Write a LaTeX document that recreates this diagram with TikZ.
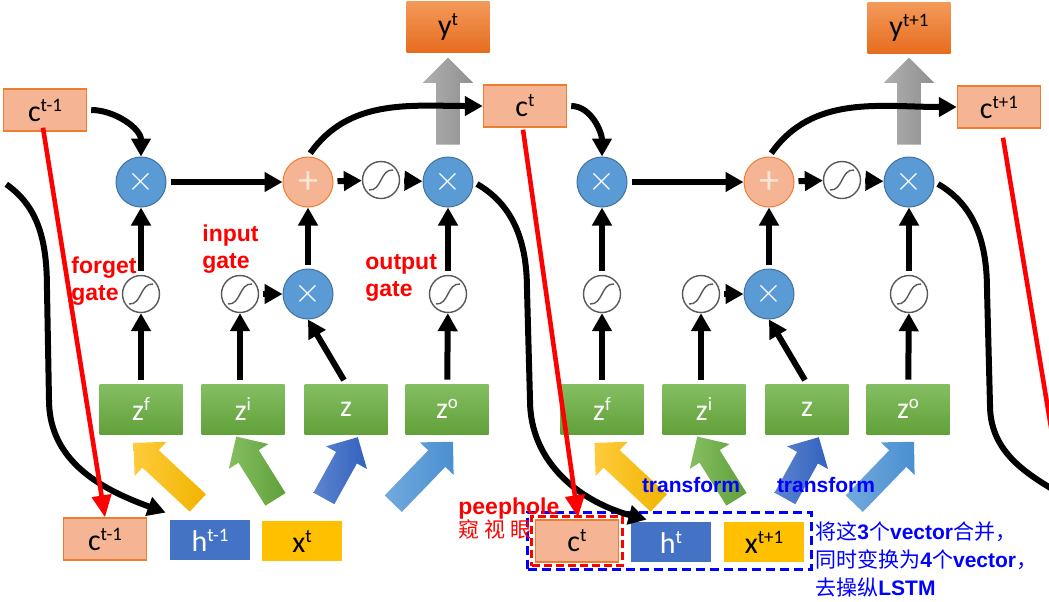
\documentclass[tikz,border=0pt]{standalone}
\usepackage{fontspec}
\setmainfont{Carlito}
\newfontfamily\arialfont{Liberation Sans}
\newfontfamily\cjkfont{Noto Sans CJK SC}
\usepackage{tikz}
\usetikzlibrary{positioning,arrows.meta,shapes.arrows,fit}
\definecolor{salmon}{HTML}{F5B595}
\definecolor{salmonedge}{HTML}{ED7D31}
\definecolor{orangetop}{HTML}{F39A5A}
\definecolor{orangebot}{HTML}{E66C1E}
\definecolor{opblue}{HTML}{5B9BD5}
\definecolor{opblueedge}{HTML}{41719C}
\definecolor{pluswhite}{HTML}{FBE5D6}
\definecolor{greentop}{HTML}{84BE62}
\definecolor{greenbot}{HTML}{62A13A}
\definecolor{hblue}{HTML}{4472C4}
\definecolor{xyellow}{HTML}{FFC000}
\definecolor{sigedge}{HTML}{595959}
\definecolor{notered}{HTML}{FF0000}
\definecolor{noteblue}{HTML}{0000FF}
\definecolor{yeltip}{HTML}{F0B400}
\definecolor{yeltail}{HTML}{FFCB3C}
\definecolor{grntip}{HTML}{5FA03A}
\definecolor{grntail}{HTML}{86BE62}
\definecolor{dbltip}{HTML}{3262BE}
\definecolor{dbltail}{HTML}{5E84CF}
\definecolor{lbltip}{HTML}{4A8FD1}
\definecolor{lbltail}{HTML}{72AADD}
\definecolor{graytip}{HTML}{8F8F8F}
\definecolor{graytail}{HTML}{B0B0B0}
\newcommand{\supt}[1]{\raisebox{5pt}{\fontsize{9.5}{10}\selectfont #1}}
\newcommand{\latb}[1]{{\arialfont\bfseries #1}}
\newcommand{\boxfont}{\fontsize{15}{15}\selectfont}
\tikzset{
    cellbox/.style={
        draw=salmonedge, fill=salmon, line width=0.7pt,
        minimum width=41.5pt, minimum height=21pt, inner sep=0pt,
        font=\boxfont
    },
    outbox/.style={
        top color=orangetop, bottom color=orangebot, draw=none,
        minimum width=41.5pt, minimum height=25.5pt, inner sep=0pt,
        font=\boxfont
    },
    zbox/.style={
        top color=greentop, bottom color=greenbot, draw=none,
        minimum width=41.5pt, minimum height=25pt, inner sep=0pt,
        text=white, font=\boxfont
    },
    hbox/.style={
        fill=hblue, draw=none, text=white,
        minimum width=40pt, minimum height=20pt, inner sep=0pt,
        font=\boxfont
    },
    xbox/.style={
        fill=xyellow, draw=none,
        minimum width=40pt, minimum height=20pt, inner sep=0pt,
        font=\boxfont
    },
    mulop/.style={
        circle, fill=opblue, draw=opblueedge, line width=0.5pt,
        minimum size=25pt, inner sep=0pt, text=white,
        font=\fontsize{18}{18}\selectfont
    },
    addop/.style={
        circle, fill=salmon, draw=salmonedge, line width=0.5pt,
        minimum size=25pt, inner sep=0pt, text=pluswhite,
        font=\fontsize{20}{20}\selectfont
    },
    sigop/.style={
        circle, fill=white, draw=sigedge, line width=0.7pt,
        minimum size=18.5pt, inner sep=0pt,
        path picture={\draw[line width=0.7pt]
            ([xshift=-6pt,yshift=-5pt]path picture bounding box.center)
            .. controls ([xshift=0.5pt,yshift=-5.5pt]path picture bounding box.center)
            and ([xshift=-0.5pt,yshift=5.5pt]path picture bounding box.center)
            .. ([xshift=6pt,yshift=5pt]path picture bounding box.center);}
    },
    fat/.style={
        single arrow, draw=none, inner sep=0pt, inner ysep=5.75pt,
        text height=0pt, text depth=0pt, single arrow head extend=5.75pt
    },
    gatelabel/.style={
        text=notered, align=left, inner sep=0pt,
        font=\arialfont\bfseries\fontsize{11.5}{13.5}\selectfont
    },
    tflabel/.style={
        text=noteblue, inner sep=0pt,
        font=\arialfont\bfseries\fontsize{10.5}{12}\selectfont
    },
    notetext/.style={
        text=noteblue, align=left, inner sep=0pt,
        font=\fontsize{10.5}{14}\selectfont
    },
    flow/.style={-{Triangle[length=9pt,width=9.5pt]}, line width=3pt, shorten <=2pt},
    peep/.style={-{Triangle[length=11pt,width=9.5pt]}, line width=2.3pt, draw=notered},
}
\begin{document}
\begin{tikzpicture}[x=0.5pt, y=-0.5pt]
\path[use as bounding box, fill=white] (0,0) rectangle (1049,601);
\clip (0,0) rectangle (1049,601);

\foreach \k/\dx in {1/0,2/461}{
    \node[mulop] (fmul\k) at (141+\dx,182) {$\times$};
    \node[addop] (add\k) at (308+\dx,182) {+};
    \node[sigop] (tsig\k) at (381+\dx,180) {};
    \node[mulop] (omul\k) at (448+\dx,182) {$\times$};
    \node[sigop] (fsig\k) at (141+\dx,294) {};
    \node[sigop] (isig\k) at (240+\dx,294) {};
    \node[mulop] (imul\k) at (308+\dx,294) {$\times$};
    \node[sigop] (osig\k) at (448+\dx,294) {};
    \node[zbox] (zf\k) at (141+\dx,409) {z\supt{f}};
    \node[zbox] (zi\k) at (243+\dx,409) {z\supt{i}};
    \node[zbox] (zz\k) at (346+\dx,409) {z};
    \node[zbox] (zo\k) at (447+\dx,409) {z\supt{o}};
    \node[fat, left color=yeltail, right color=yeltip, rotate=137, minimum height=44pt] (fy\k) at (170+\dx,477) {};
    \node[fat, left color=grntail, right color=grntip, rotate=122, minimum height=37pt] (fg\k) at (259+\dx,473) {};
    \node[fat, left color=dbltail, right color=dbltip, rotate=61, minimum height=35pt] (fd\k) at (338+\dx,473) {};
    \node[fat, left color=lbltail, right color=lbltip, rotate=46, minimum height=43pt] (fl\k) at (419+\dx,477) {};
    \node[fat, left color=graytail, right color=graytip, rotate=90, minimum height=43.5pt,
        single arrow head extend=6.75pt] (fo\k) at (448+\dx,107) {};
    \draw[flow] (fmul\k) -- (add\k);
    \draw[flow] (add\k) -- (tsig\k);
    \draw[flow] (tsig\k) -- (omul\k);
    \draw[flow] (fsig\k) -- (fmul\k);
    \draw[flow] (isig\k) -- (imul\k);
    \draw[flow] (imul\k) -- (add\k);
    \draw[flow] (osig\k) -- (omul\k);
    \draw[flow] (zf\k) -- (fsig\k);
    \draw[flow] (zi\k.north -| isig\k) -- (isig\k);
    \draw[flow] (zz\k.north) -- (imul\k.south);
    \draw[flow] (zo\k) -- (osig\k);
}

\node[cellbox] (cin1) at (45,110) {c\supt{t-1}};
\node[cellbox] (cin2) at (525,106) {c\supt{t}};
\node[cellbox] (cin3) at (999,107) {c\supt{t+1}};
\node[outbox] (yout1) at (448,27) {y\supt{t}};
\node[outbox] (yout2) at (909,28) {y\supt{t+1}};
\node[cellbox] (cpeep1) at (105,539) {c\supt{t-1}};
\node[hbox] (hin1) at (210,540) {h\supt{t-1}};
\node[xbox] (xin1) at (302,541) {x\supt{t}};
\node[cellbox] (cpeep2) at (577,541) {c\supt{t}};
\node[hbox] (hin2) at (671,542) {h\supt{t}};
\node[xbox] (xin2) at (764,542) {x\supt{t+1}};
\node[fit=(cpeep2), draw=notered, dash pattern=on 4pt off 2pt, line width=1.5pt, inner sep=1.5pt] (peepbox) {};
\node[fit=(cpeep2)(xin2), draw=noteblue, dash pattern=on 4.5pt off 2.5pt, line width=1.5pt, inner sep=3.5pt] (mergebox) {};

\coordinate (loopin) at (3,182);
\coordinate (loopa) at (47,290);
\coordinate (loopb) at (49,400);
\coordinate (loopc) at (527,290);
\coordinate (loopd) at (530,400);
\coordinate (loope) at (987,290);
\coordinate (loopf) at (990,405);
\coordinate (loopout) at (1080,505);
\coordinate (peepout) at (1073,560);

\draw[flow] (cin1.east) to[out=0,in=90] (fmul1.north);
\draw[flow] (cin2.east) to[out=0,in=90] (fmul2.north);
\draw[flow] (add1.north) to[out=55,in=180] (cin2.west);
\draw[flow] (add2.north) to[out=55,in=180] (cin3.west);
\draw[flow] (loopin) to[out=-35,in=90] (loopa) -- (loopb) to[out=-90,in=160] ([shift={(-4,-7)}]hin1.north west);
\draw[flow] (omul1.east) to[out=-30,in=90] (loopc) -- (loopd) to[out=-90,in=165] ([shift={(16,-2)}]hin2.north west);
\draw[flow, -] (omul2.east) to[out=-30,in=90] (loope) -- (loopf) to[out=-90,in=150] (loopout);

\draw[peep] ([shift={(-2,-4)}]cin1.south) -- (cpeep1.north);
\draw[peep] ([shift={(-2,2)}]cin2.south) -- ([shift={(1,-2)}]cpeep2.north);
\draw[peep, -] ([shift={(4,9)}]cin3.south) -- (peepout);

\node[gatelabel, anchor=west] (fgate) at (71,281) {forget\\gate};
\node[gatelabel, anchor=west] (igate) at (202,249) {input\\gate};
\node[gatelabel, anchor=west] (ogate) at (365,278) {output\\gate};
\node[tflabel] (tf1) at (691,485) {transform};
\node[tflabel] (tf2) at (826,485) {transform};
\node[gatelabel, anchor=west, font=\fontsize{11.5}{11.5}\selectfont] (peeplabel) at (458,519)
    {\latb{peephole}\\{\cjkfont\fontsize{10.5}{11.5}\selectfont 窥\hspace{2.5pt}视\hspace{2.5pt}眼}};
\node[notetext, anchor=north west] (mergenote) at (815,521)
    {{\cjkfont 将这}\latb{3}{\cjkfont 个}\latb{vector}{\cjkfont 合并，}\\
     {\cjkfont 同时变换为}\latb{4}{\cjkfont 个}\latb{vector}{\cjkfont ，}\\
     {\cjkfont 去操纵}\latb{LSTM}};
\end{tikzpicture}
\end{document}
